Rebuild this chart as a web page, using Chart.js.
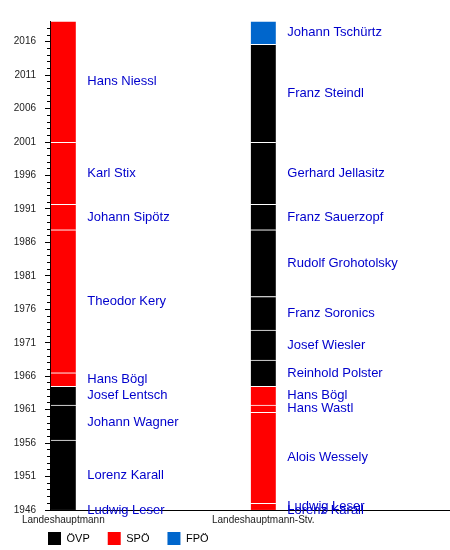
<!DOCTYPE html>
<html>
<head>
<meta charset="utf-8">
<script src="https://cdn.jsdelivr.net/npm/chart.js@4.4.1/dist/chart.umd.min.js"></script>
<style>
  html, body { margin: 0; padding: 0; background: #fff; }
</style>
</head>
<body>
<canvas id="chart" width="450" height="550"></canvas>
<script>
// Spalten
const columns = ['Landeshauptmann', 'Landeshauptmann-Stv.'];

// Amtszeiten (Spalte 0 = LH, 1 = LH-Stv.)
const names = [
    'Ludwig Leser', 'Lorenz Karall', 'Johann Wagner', 'Josef Lentsch', 'Hans Bögl',
    'Theodor Kery', 'Johann Sipötz', 'Karl Stix', 'Hans Niessl',
    'Lorenz Karall', 'Ludwig Leser', 'Alois Wessely', 'Hans Wastl', 'Hans Bögl',
    'Reinhold Polster', 'Josef Wiesler', 'Franz Soronics', 'Rudolf Grohotolsky',
    'Franz Sauerzopf', 'Gerhard Jellasitz', 'Franz Steindl', 'Johann Tschürtz'
];
const columnIndex = [0, 0, 0, 0, 0, 0, 0, 0, 0, 1, 1, 1, 1, 1, 1, 1, 1, 1, 1, 1, 1, 1];
const startYears = [
    1945.75, 1946.0, 1956.45, 1961.7, 1964.5, 1966.5, 1987.9, 1991.7, 2000.95,
    1945.75, 1946.0, 1947.0, 1960.6, 1961.7, 1964.5, 1968.4, 1972.9, 1977.9,
    1987.9, 1991.7, 2000.95, 2015.6
];
const endYears = [
    1946.0, 1956.45, 1961.7, 1964.5, 1966.5, 1987.9, 1991.7, 2000.95, 2019.1,
    1946.0, 1947.0, 1960.6, 1961.7, 1964.5, 1968.4, 1972.9, 1977.9, 1987.9,
    1991.7, 2000.95, 2015.6, 2019.1
];
const partyOf = [
    'SPÖ', 'ÖVP', 'ÖVP', 'ÖVP', 'SPÖ', 'SPÖ', 'SPÖ', 'SPÖ', 'SPÖ',
    'ÖVP', 'SPÖ', 'SPÖ', 'SPÖ', 'SPÖ', 'ÖVP', 'ÖVP', 'ÖVP', 'ÖVP',
    'ÖVP', 'ÖVP', 'ÖVP', 'FPÖ'
];

const parties = ['ÖVP', 'SPÖ', 'FPÖ'];
const partyColors = { 'ÖVP': '#000000', 'SPÖ': '#ff0000', 'FPÖ': '#0066cc' };

const yearMin = 1946;
const yearMax = 2019.1;

const fontFamily = '"Liberation Sans", Arial, sans-serif';
Chart.defaults.font.family = fontFamily;

const isMajor = v => (v - yearMin) % 5 === 0;

// Namen rechts neben den Balken
const nameLabels = {
    id: 'nameLabels',
    afterDatasetsDraw(chart) {
        const ctx = chart.ctx;
        ctx.save();
        ctx.font = '13px ' + fontFamily;
        ctx.fillStyle = '#0000cc';
        ctx.textAlign = 'left';
        ctx.textBaseline = 'middle';
        chart.data.datasets.forEach((ds, i) => {
            const bar = chart.getDatasetMeta(i).data[0];
            ctx.fillText(ds.label, bar.x + 24, (bar.y + bar.base) / 2);
        });
        ctx.restore();
    }
};

// Legende unter die Achsenbeschriftung setzen
const legendShift = {
    id: 'legendShift',
    afterLayout(chart) {
        chart.legend.left = 30;
        chart.legend.top = 514;
    }
};

const datasets = names.map((name, i) => ({
    label: name,
    data: [{ x: columnIndex[i], y: [startYears[i], endYears[i]] }],
    backgroundColor: partyColors[partyOf[i]],
    borderColor: '#ffffff',
    borderWidth: { top: 1, right: 0, bottom: 0, left: 0 },
    borderSkipped: false,
    barThickness: 25,
    grouped: false
}));

new Chart(document.getElementById('chart'), {
    type: 'bar',
    data: { datasets: datasets },
    plugins: [nameLabels, legendShift],
    options: {
        responsive: false,
        animation: false,
        layout: { padding: { top: 21, left: 0, right: 0, bottom: -21 } },
        scales: {
            x: {
                type: 'linear',
                bounds: 'data',
                offset: false,
                min: -0.0665,
                max: 1.9335,
                afterBuildTicks: s => { s.ticks = columns.map((c, i) => ({ value: i })); },
                afterFit: s => { s.height = 20; },
                ticks: {
                    autoSkip: false,
                    maxRotation: 0,
                    padding: 4,
                    color: '#222',
                    font: { size: 10 },
                    callback: v => columns[v]
                },
                grid: { display: false, drawTicks: false, offset: false },
                border: { color: '#000', width: 1 }
            },
            y: {
                type: 'linear',
                bounds: 'data',
                min: yearMin,
                max: yearMax,
                afterBuildTicks: s => { s.ticks = s.ticks.filter(t => Number.isInteger(t.value)); },
                afterFit: s => { s.width = 50; },
                ticks: {
                    stepSize: 1,
                    autoSkip: false,
                    padding: 9,
                    color: '#222',
                    font: { size: 10 },
                    callback: v => (isMajor(v) ? String(v) : '')
                },
                grid: {
                    drawOnChartArea: false,
                    tickLength: 5,
                    tickColor: '#000',
                    color: '#000',
                    // kurze Striche für die Zwischenjahre
                    tickBorderDash: c => (c.tick && !isMajor(c.tick.value) ? [3, 2] : []),
                    tickBorderDashOffset: c => (c.tick && !isMajor(c.tick.value) ? 3 : 0)
                },
                border: { color: '#000', width: 1 }
            }
        },
        plugins: {
            tooltip: { enabled: false },
            legend: {
                position: 'bottom',
                align: 'start',
                labels: {
                    boxWidth: 13,
                    boxHeight: 13,
                    padding: 18,
                    color: '#222',
                    font: { size: 11 },
                    generateLabels: () => parties.map(p => ({
                        text: p,
                        fillStyle: partyColors[p],
                        strokeStyle: partyColors[p],
                        lineWidth: 0,
                        hidden: false
                    }))
                }
            }
        }
    }
});
</script>
</body>
</html>
